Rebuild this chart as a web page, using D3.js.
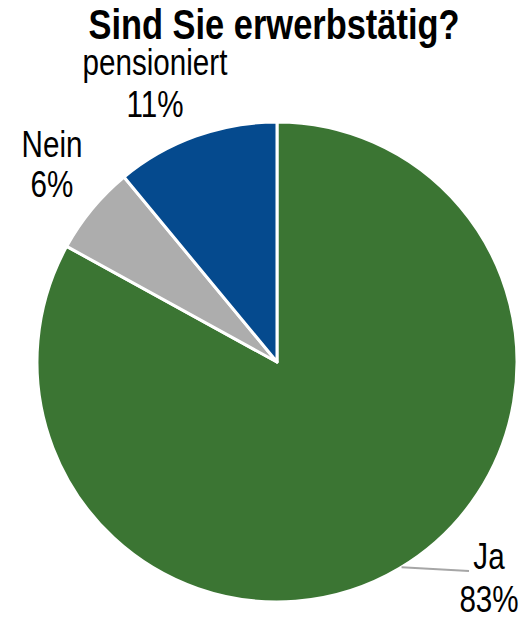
<!DOCTYPE html>
<html>
<head>
<meta charset="utf-8">
<script src="https://cdn.jsdelivr.net/npm/d3@7"></script>
<style>
  body { margin: 0; background: #fff; }
  text { font-family: "Liberation Sans", Arial, sans-serif; fill: #000; }
</style>
</head>
<body>
<div id="chart"></div>
<script>
// data
var categories = ["Ja", "Nein", "pensioniert"];
var values = [83, 6, 11];
var colors = ["#3b7533", "#adadad", "#054a8e"];

var width = 526, height = 618;
var cx = 277, cy = 362, radius = 240;

var svg = d3.select("#chart").append("svg")
    .attr("width", width)
    .attr("height", height);

// title, narrow look faked with scaleX
svg.append("g")
    .attr("transform", "translate(274,0) scale(0.82,1)")
  .append("text")
    .attr("x", 0)
    .attr("y", 39)
    .attr("text-anchor", "middle")
    .style("font-size", "42px")
    .style("font-weight", "bold")
    .text("Sind Sie erwerbstätig?");

var data = categories.map(function(c, i){ return {key: c, value: values[i], color: colors[i]}; });

var pie = d3.pie().sort(null).value(function(d){ return d.value; });
var arc = d3.arc().innerRadius(0).outerRadius(radius);

var g = svg.append("g").attr("transform", "translate(" + cx + "," + cy + ")");

var arcs = pie(data);

g.selectAll("path")
  .data(arcs)
  .enter().append("path")
    .attr("d", arc)
    .style("fill", function(d){ return d.data.color; })
    .style("stroke", "#fff")
    .style("stroke-width", 3)
    .style("stroke-linejoin", "round");

// label spots, placed by hand (narrow font faked with scaleX)
var labelPos = {
  "Ja": {x: 489, y: 569, gap: 43, line: [2.596, 469, 571]},
  "Nein": {x: 52, y: 157, gap: 40},
  "pensioniert": {x: 155, y: 75, gap: 42}
};

arcs.forEach(function(d){
  var p = labelPos[d.data.key];
  if (p.line) {
    var a = p.line[0];
    svg.append("line")
      .attr("x1", cx + radius * Math.sin(a)).attr("y1", cy - radius * Math.cos(a))
      .attr("x2", p.line[1]).attr("y2", p.line[2])
      .style("stroke", "#a6a6a6")
      .style("stroke-width", 2);
  }
  var lg = svg.append("g").attr("transform", "translate(" + p.x + ",0) scale(0.8,1)");
  var t = lg.append("text")
    .attr("text-anchor", "middle")
    .style("font-size", "37px");
  t.append("tspan").attr("x", 0).attr("y", p.y).text(d.data.key);
  t.append("tspan").attr("x", 0).attr("y", p.y + p.gap).text(d.data.value + "%");
});
</script>
</body>
</html>
